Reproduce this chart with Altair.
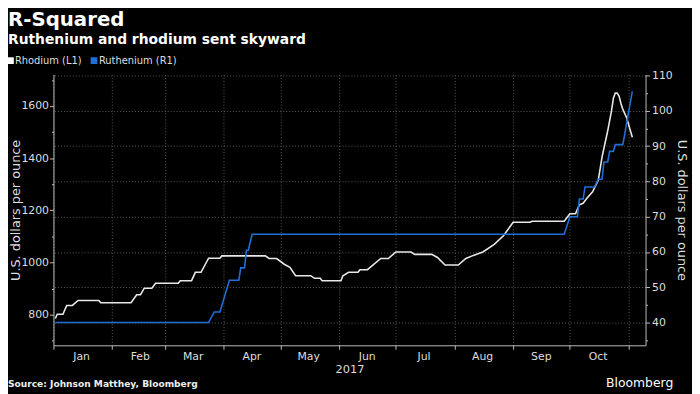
import altair as alt
import pandas as pd

# ---------------- data ----------------
rh_dates = ["2017/01/02", "2017/01/03", "2017/01/06", "2017/01/08", "2017/01/11", "2017/01/14",
            "2017/01/25", "2017/01/26", "2017/02/11", "2017/02/14", "2017/02/16", "2017/02/18",
            "2017/02/22", "2017/02/24", "2017/03/08", "2017/03/09", "2017/03/15", "2017/03/17",
            "2017/03/20", "2017/03/24", "2017/03/30", "2017/03/31", "2017/04/23", "2017/04/25",
            "2017/04/29", "2017/05/03", "2017/05/06", "2017/05/09", "2017/05/17", "2017/05/19",
            "2017/05/22", "2017/05/23", "2017/06/02", "2017/06/03", "2017/06/06", "2017/06/11",
            "2017/06/12", "2017/06/16", "2017/06/23", "2017/06/27", "2017/07/01", "2017/07/09",
            "2017/07/11", "2017/07/20", "2017/07/23", "2017/07/27", "2017/08/03", "2017/08/07",
            "2017/08/11", "2017/08/16", "2017/08/22", "2017/08/27", "2017/09/01", "2017/09/10",
            "2017/09/11", "2017/09/28", "2017/10/01", "2017/10/04", "2017/10/06", "2017/10/08",
            "2017/10/10", "2017/10/13", "2017/10/16", "2017/10/18", "2017/10/21", "2017/10/23",
            "2017/10/24", "2017/10/25", "2017/10/26", "2017/10/27", "2017/10/28", "2017/10/29",
            "2017/10/31", "2017/11/03"]
rh_values = [785, 801, 801, 835, 835, 854,
             854, 845, 845, 876, 876, 901,
             901, 920, 920, 930, 930, 962,
             962, 1016, 1016, 1025, 1025, 1015,
             1015, 993, 981, 949, 949, 939,
             939, 930, 930, 949, 962, 962,
             972, 972, 1015, 1015, 1040, 1040,
             1031, 1031, 1019, 990, 990, 1015,
             1027, 1040, 1069, 1103, 1154, 1154,
             1158, 1158, 1187, 1187, 1221, 1227,
             1246, 1271, 1315, 1404, 1505, 1581,
             1630, 1650, 1650, 1638, 1610, 1587,
             1555, 1480]

ru_dates = ["2017/01/02", "2017/03/24", "2017/03/27", "2017/03/30", "2017/04/04", "2017/04/09",
            "2017/04/10", "2017/04/12", "2017/04/13", "2017/04/14", "2017/04/16", "2017/09/28",
            "2017/10/01", "2017/10/05", "2017/10/06", "2017/10/08", "2017/10/09", "2017/10/14",
            "2017/10/16", "2017/10/18", "2017/10/19", "2017/10/21", "2017/10/22", "2017/10/24",
            "2017/10/25", "2017/10/29", "2017/11/03"]
ru_values = [40, 40, 43, 43, 52, 52,
             55.5, 55.5, 60.5, 60.5, 65, 65,
             70, 70, 75, 75, 78.4, 78.4,
             80.6, 80.6, 85.5, 85.5, 88.5, 88.5,
             90.4, 90.4, 105.5]

left_ticks = list(range(700, 1800, 100))
right_ticks = list(range(35, 115, 5))
month_ticks = list(range(1, 12))

rh_df = pd.DataFrame({"date": rh_dates, "value": rh_values})
ru_df = pd.DataFrame({"date": ru_dates, "value": ru_values})
one = pd.DataFrame({"k": [0]})

# ---------------- styling ----------------
FONT = "DejaVu Sans"
TXT = "#dddddd"
AXC = "#bbbbbb"
GRID = "#5a5a5a"
WHITE_LINE = "#e8e8e8"
BLUE_LINE = "#1f6fd6"
W, H = 599, 274

x_enc = alt.X(
    "date:T",
    scale=alt.Scale(domain=[alt.DateTime(year=2017, month=1, date=1),
                            alt.DateTime(year=2017, month=11, date=10)]),
    axis=alt.Axis(
        values=[alt.DateTime(year=2017, month=m, date=1) for m in month_ticks],
        format="%b",
        labelExpr="datum.label == 'Nov' ? '' : datum.label",
        labelOffset=28, labelPadding=1, labelFlush=False, labelOverlap=False, labelBound=False,
        labelColor=TXT, labelFont=FONT, labelFontSize=11,
        tickSize=4, tickColor=AXC, domainColor=AXC,
        grid=True, gridColor=GRID, gridDash=[1, 2],
        title="2017", titleColor=TXT, titleFont=FONT, titleFontSize=11.5,
        titleFontWeight="normal", titleY=28, titleBaseline="alphabetic",
    ),
)

left = alt.Chart(rh_df).mark_line(color=WHITE_LINE, strokeWidth=1.6).encode(
    x=x_enc,
    y=alt.Y("value:Q",
            scale=alt.Scale(domain=[682, 1721], nice=False, zero=False),
            axis=alt.Axis(
                orient="left", values=left_ticks, format="d",
                labelExpr="datum.value % 200 == 0 ? datum.label : ''",
                labelColor=TXT, labelFont=FONT, labelFontSize=11, labelPadding=1,
                tickSize={"condition": {"test": "datum.value % 200 != 0", "value": 2}, "value": 4},
                tickColor=AXC, domainColor=AXC, grid=False,
                title="U.S. dollars per ounce", titleColor=TXT, titleFont=FONT,
                titleFontSize=13, titleFontWeight="normal",
                titleX=-38, titleY=H / 2, titleAngle=270,
                titleAlign="center", titleBaseline="middle",
            )),
)

right = alt.Chart(ru_df).mark_line(color=BLUE_LINE, strokeWidth=1.6).encode(
    x=x_enc,
    y=alt.Y("value:Q",
            scale=alt.Scale(domain=[33.56, 110.28], nice=False, zero=False),
            axis=alt.Axis(
                orient="right", values=right_ticks, format="d",
                labelExpr="datum.value % 10 == 0 ? datum.label : ''",
                labelColor=TXT, labelFont=FONT, labelFontSize=11, labelPadding=2,
                tickSize={"condition": {"test": "datum.value % 10 != 0", "value": 2}, "value": 4},
                tickColor=AXC, domainColor=AXC,
                grid=True, gridColor=GRID, gridDash=[1, 2],
                gridOpacity={"condition": {"test": "datum.value % 10 != 0", "value": 0}, "value": 1},
                title="U.S. dollars per ounce", titleColor=TXT, titleFont=FONT,
                titleFontSize=13, titleFontWeight="normal",
                titleX=36, titleY=H / 2, titleAngle=90,
                titleAlign="center", titleBaseline="middle",
            )),
)


def text(t, x, y, size, weight="normal", align="left", color="#ffffff", baseline="alphabetic"):
    return alt.Chart(one).mark_text(
        text=t, align=align, baseline=baseline, fontSize=size, fontWeight=weight,
        color=color, font=FONT,
    ).encode(x=alt.value(x), y=alt.value(y))


def square(x, y, color):
    return alt.Chart(one).mark_square(size=46, color=color, opacity=1).encode(
        x=alt.value(x), y=alt.value(y))


title = text("R-Squared", -46, -49, 20, "bold")
subtitle = text("Ruthenium and rhodium sent skyward", -46, -31, 14, "bold")
leg1_sq = square(-43.5, -14, "#ffffff")
leg1_tx = text("Rhodium (L1)", -39, -14, 10, color=TXT, baseline="middle")
leg2_sq = square(41, -14, BLUE_LINE)
leg2_tx = text("Ruthenium (R1)", 46, -14, 10, color=TXT, baseline="middle")
source = text("Source: Johnson Matthey, Bloomberg", -46, 316, 9.2, "bold", color="#eeeeee")
brand = text("Bloomberg", 627, 316, 12.5, "normal", align="right", color="#ffffff")

chart = alt.layer(
    left, right, title, subtitle, leg1_sq, leg1_tx, leg2_sq, leg2_tx, source, brand
).resolve_scale(
    y="independent"
).properties(
    width=W, height=H,
    background="#000000",
    autosize=alt.AutoSizeParams(type="none"),
    padding={"left": 46, "top": 65, "right": 47, "bottom": 47},
).configure_view(stroke=None)

chart.save("out.html", embed_options={"renderer": "svg", "actions": False})
